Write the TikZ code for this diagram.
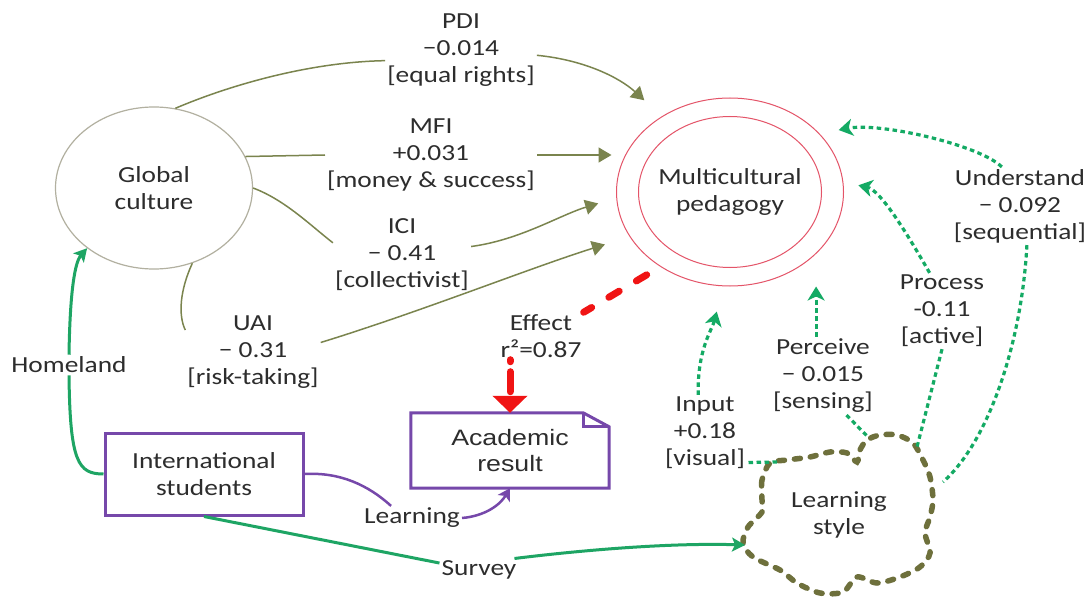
\documentclass[tikz,border=0pt]{standalone}
\usepackage{fontspec}
\setmainfont{Carlito}[FakeStretch=1.19]
\newfontfamily\arialx{Liberation Sans}[FakeStretch=1.2]
\usetikzlibrary{arrows.meta,calc,shapes.geometric}
\definecolor{olv}{RGB}{122,132,78}
\definecolor{gcl}{RGB}{178,176,160}
\definecolor{mpr}{RGB}{228,84,104}
\definecolor{pur}{RGB}{118,72,170}
\definecolor{grs}{RGB}{30,165,100}
\definecolor{grd}{RGB}{20,170,100}
\definecolor{rd}{RGB}{240,20,20}
\definecolor{cld}{RGB}{110,112,60}
\definecolor{txt}{RGB}{45,45,45}
\begin{document}
\begin{tikzpicture}[x=1pt,y=-1pt,
  lbl/.style={align=center, inner sep=2pt, text=txt, font=\fontsize{23}{27}\selectfont},
  oline/.style={draw=olv, line width=1.5pt},
  oarr/.style={oline, -{Triangle[length=13pt,width=15pt]}},
  gdot/.style={draw=grd, line width=3.2pt, dash pattern=on 4.5pt off 3.5pt},
  garr/.style={gdot, -{Stealth[length=14pt,width=17pt,inset=4pt]}},
  gsol/.style={draw=grs, line width=3pt},
  gsarr/.style={gsol, -{Stealth[length=13pt,width=14pt,inset=3pt]}},
  psol/.style={draw=pur, line width=2.5pt},
  parr/.style={psol, -{Stealth[length=12pt,width=14pt,inset=3pt]}},
  reddash/.style={draw=rd, line width=7pt, dash pattern=on 12pt off 20pt, line cap=round},
  redarr/.style={draw=rd, line width=7pt, dash pattern=on 2pt off 10pt on 18pt off 0pt, line cap=round, -{Triangle[length=17pt,width=34pt]}},
  cloudst/.style={draw=cld, line width=5.5pt, dash pattern=on 6pt off 10pt, line cap=round},
  boxst/.style={draw=pur, line width=3pt}]
\fill[white] (0,0) rectangle (1090,599);
\useasboundingbox (0,0) rectangle (1090,599);

% main nodes
\node[lbl, ellipse, draw=gcl, line width=1.2pt, minimum width=197pt, minimum height=162pt, inner sep=0pt] (gc) at (154,188) {Global\\culture};
\node[lbl, ellipse, draw=mpr, line width=1pt, minimum width=227pt, minimum height=188pt, inner sep=0pt] (mp) at (730,192) {Multicultural\\pedagogy};
\node[ellipse, draw=mpr, line width=1pt, minimum width=183pt, minimum height=151pt, inner sep=0pt] (mpin) at (730,192) {};
\node[lbl, boxst, minimum width=198pt, minimum height=82pt] (is) at (204,474) {International\\students};
\node[lbl, minimum width=198pt, minimum height=75pt, font=\arialx\fontsize{22.3}{26}\selectfont] (ar) at (510,450.5) {Academic\\result};
\node[lbl, ellipse, minimum width=192pt, minimum height=165pt, inner sep=0pt] (ls) at (839,515) {Learning\\style};

% academic result document shape
\draw[boxst, line join=miter] ($(ar.north east)+(-26,0)$) -- (ar.north west) -- (ar.south west) -- (ar.south east) -- ($(ar.north east)+(0,14)$) -- cycle;
\draw[boxst, line join=miter] ($(ar.north east)+(-26,0)$) -- ($(ar.north east)+(-26,14)$) -- ($(ar.north east)+(0,14)$);

% learning style cloud
\draw[cloudst] plot[smooth cycle, tension=0.5] coordinates {(770,463) (762,480) (762,500) (762,512) (748,527) (743,543) (753,557) (780,570) (797,583) (820,593) (843,592) (857,577) (877,583) (900,577) (920,567) (930,553) (925,533) (930,517) (933,500) (930,477) (923,460) (913,443) (897,435) (880,435) (867,440) (860,450) (857,462) (847,453) (830,452) (810,457) (787,460)};
\coordinate (lsSu) at ($(ls.center)+(-94,30)$);
\coordinate (lsIn) at ($(ls.center)+(-62,-53)$);
\coordinate (lsPe) at ($(ls.center)+(29,-78)$);
\coordinate (lsPr) at ($(ls.center)+(78,-68)$);
\coordinate (lsUn) at ($(ls.center)+(104,-33)$);

% labels
\node[lbl] (pdi) at (461,50) {PDI\\−0.014\\{[equal rights]}};
\node[lbl] (mfi) at (431,155) {MFI\\+0.031\\{[money \& success]}};
\node[lbl] (ici) at (402,255) {ICI\\− 0.41\\{[collectivist]}};
\node[lbl] (uai) at (253,352) {UAI\\− 0.31\\{[risk-taking]}};
\node[lbl] (eff) at (541,336) {Effect\\r²=0.87};
\node[lbl] (home) at (69,365) {Homeland};
\node[lbl] (learn) at (412,518) {Learning};
\node[lbl] (survey) at (479,570) {Survey};
\node[lbl] (input) at (705,433) {Input\\+0.18\\{[visual]}};
\node[lbl] (perc) at (823,376) {Perceive\\− 0.015\\{[sensing]}};
\node[lbl] (proc) at (942,311) {Process\\-0.11\\{[active]}};
\node[lbl] (und) at (1020,206) {Understand\\− 0.092\\{[sequential]}};

% olive connectors (culture dimensions)
\draw[oline] (gc.75.5) .. controls (230,85) and (310,62) .. (pdi.188);
\draw[oarr, shorten >=23.7pt] (pdi.-4) .. controls (585,60) and (620,78) .. (mp.132.7);
\draw[oline] (gc.19.7) -- (mfi.west);
\draw[oarr, shorten >=4.5pt] (mfi.east) -- (mfi.east -| mp.west);
\draw[oline] (gc.east) .. controls (285,200) and (310,225) .. (ici.170);
\draw[oarr, shorten >=18.8pt] (ici.7) .. controls (520,240) and (560,215) .. (mp.183.5);
\draw[oline] (gc.297.5) .. controls (180,290) and (178,315) .. (uai.162);
\draw[oarr, shorten >=25.8pt] (uai.8) .. controls (420,312) and (530,268) .. (mp.204.5);

% effect
\draw[reddash, shorten <=15.8pt] (mp.227.1) -- (eff.north east);
\draw[redarr] (eff.south -| ar.north) -- (ar.north);

% students connectors
\draw[gsol] (is.west) .. controls (78,474) and (70,462) .. (home.south);
\draw[gsarr] (home.north) .. controls (70,290) and (75,262) .. (gc.222.7);
\draw[psol] (is.east) .. controls (340,472) and (368,485) .. (learn.150);
\draw[parr] (learn.east) .. controls (485,516) and (500,505) .. (ar.south);
\draw[gsol] (is.south) -- (survey.170);
\draw[gsarr] (survey.18) .. controls (600,548) and (680,543) .. (lsSu);

% learning style dimensions
\draw[gdot] (lsIn) -- (input.-35);
\draw[garr, shorten >=26.2pt] (input.100) .. controls (697,350) and (712,330) .. (mp.266.2);
\draw[gdot] (perc.-59) -- (lsPe);
\draw[garr] (perc.100) -- (perc.100 |- mp.south);
\draw[gdot] (proc.south) -- (lsPr);
\draw[garr, shorten >=15.3pt] (proc.108) .. controls (905,230) and (880,190) .. (mp.5.4);
\draw[gdot] (und.-80) .. controls (1022,340) and (990,440) .. (lsUn);
\draw[garr, shorten >=19.3pt] (und.115) .. controls (980,145) and (880,122) .. (mp.33.3);
\end{tikzpicture}
\end{document}
